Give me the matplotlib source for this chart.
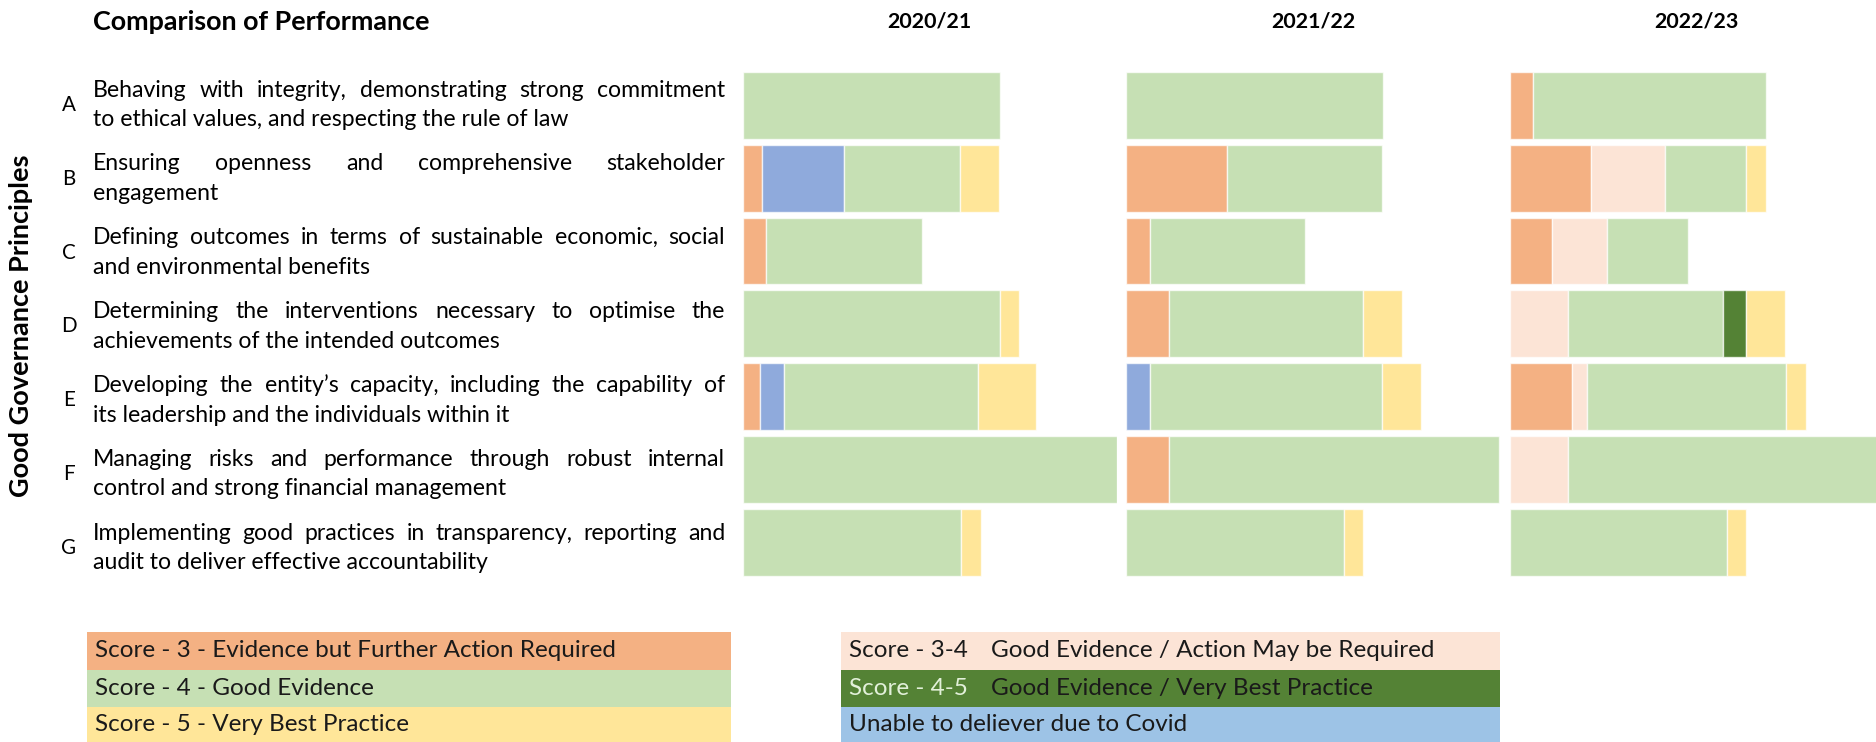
import matplotlib
matplotlib.use("Agg")
import matplotlib.pyplot as plt
from matplotlib.patches import Rectangle
import numpy as np

# ---------------- data ----------------
years = ["2020/21", "2021/22", "2022/23"]
letters = ["A", "B", "C", "D", "E", "F", "G"]
descriptions = [
    ["Behaving with integrity, demonstrating strong commitment", "to ethical values, and respecting the rule of law"],
    ["Ensuring openness and comprehensive stakeholder", "engagement"],
    ["Defining outcomes in terms of sustainable economic, social", "and environmental benefits"],
    ["Determining the interventions necessary to optimise the", "achievements of the intended outcomes"],
    ["Developing the entity\u2019s capacity, including the capability of", "its leadership and the individuals within it"],
    ["Managing risks and performance through robust internal", "control and strong financial management"],
    ["Implementing good practices in transparency, reporting and", "audit to deliver effective accountability"],
]

# segment values per year (rows A..G)
score3 = [
    [0, 1.0, 1.2, 0, 0.9, 0, 0],
    [0, 5.2, 1.2, 2.2, 0, 2.2, 0],
    [1.2, 4.2, 2.2, 0, 3.2, 0, 0],
]
covid = [
    [0, 4.2, 0, 0, 1.2, 0, 0],
    [0, 0, 0, 0, 1.2, 0, 0],
    [0, 0, 0, 0, 0, 0, 0],
]
score34 = [
    [0, 0, 0, 0, 0, 0, 0],
    [0, 0, 0, 0, 0, 0, 0],
    [0, 3.8, 2.8, 3.0, 0.8, 3.0, 0],
]
score4 = [
    [13.25, 6.0, 8.0, 13.25, 10.0, 19.26, 11.25],
    [13.25, 8.0, 8.0, 10.0, 12.0, 17.0, 11.2],
    [12.0, 4.2, 4.2, 8.0, 10.25, 16.26, 11.2],
]
score45 = [
    [0, 0, 0, 0, 0, 0, 0],
    [0, 0, 0, 0, 0, 0, 0],
    [0, 0, 0, 1.2, 0, 0, 0],
]
score5 = [
    [0, 2.0, 0, 1.0, 3.0, 0, 1.0],
    [0, 0, 0, 2.0, 2.0, 0, 1.0],
    [0, 1.0, 0, 2.0, 1.0, 0, 1.0],
]

legend_left = ["Score - 3 - Evidence but Further Action Required",
               "Score - 4 - Good Evidence",
               "Score - 5 - Very Best Practice"]
legend_right_a = ["Score - 3-4", "Score - 4-5", "Unable to deliever due to Covid"]
legend_right_b = ["Good Evidence / Action May be Required",
                  "Good Evidence / Very Best Practice", ""]

title = "Comparison of Performance"
side_label = "Good Governance Principles"

# ---------------- style ----------------
C_ORANGE = "#F4B183"
C_BLUE_BAR = "#8FAADC"
C_PALE = "#FCE4D6"
C_GREEN = "#C6E0B4"
C_DKGREEN = "#548235"
C_YELLOW = "#FFE699"
C_BLUE_LEG = "#9DC3E6"

FONT = "Lato"
W, H = 1876, 742
fig = plt.figure(figsize=(W / 100, H / 100), dpi=100)
fig.patch.set_facecolor("white")
renderer = fig.canvas.get_renderer()


def fx(x):
    return x / W


def fy(y):
    return 1 - y / H


def text_w(s, size, weight="normal"):
    t = fig.text(0, 0, s, fontsize=size, family=FONT, weight=weight)
    w = t.get_window_extent(renderer).width
    t.remove()
    return w


def fit(s, target, weight="normal"):
    return 12 * target / text_w(s, 12, weight)


# ---------------- bars ----------------
panel_left0 = 743
panel_pitch = 383.35
panel_w = 373.7
ax_top, ax_bot = 69, 578.6
xmax = 19.26
rows = np.arange(len(letters))
series = [(score3, C_ORANGE), (covid, C_BLUE_BAR), (score34, C_PALE),
          (score4, C_GREEN), (score45, C_DKGREEN), (score5, C_YELLOW)]

for k, yr in enumerate(years):
    left_px = panel_left0 + k * panel_pitch
    ax = fig.add_axes([fx(left_px), fy(ax_bot), panel_w / W, (ax_bot - ax_top) / H])
    base = np.zeros(len(letters))
    for data, col in series:
        vals = np.array(data[k], dtype=float)
        m = vals > 0
        if m.any():
            ax.barh(rows[m], vals[m], left=base[m], height=0.92, color=col,
                    edgecolor=(1, 1, 1, 0.7), linewidth=1.0)
        base += vals
    ax.set_xlim(0, xmax)
    ax.set_ylim(len(letters) - 0.5, -0.5)
    ax.axis("off")
    # year header
    ys = fit("2020/21", 84, "bold")
    fig.text(fx(left_px + panel_w / 2), fy(21.5), yr, fontsize=ys, family=FONT,
             weight="bold", ha="center", va="center")

# ---------------- titles ----------------
ts = fit(title, 335, "bold")
fig.text(fx(93), fy(21.5), title, fontsize=ts, family=FONT, weight="bold",
         ha="left", va="center")
ss = fit(side_label, 342, "bold")
fig.text(fx(21.5), fy(326), side_label, fontsize=ss, family=FONT, weight="bold",
         rotation=90, ha="center", va="center")

# ---------------- row labels (justified first line) ----------------
ls = fit(descriptions[4][0], 592)
x0, x1 = 93, 725
for i, (l1, l2) in enumerate(descriptions):
    yc = 105 + i * 73.8
    fig.text(fx(69), fy(yc), letters[i], fontsize=ls * 0.9, family=FONT,
             ha="center", va="center")
    words = l1.split(" ")
    widths = [text_w(w_, ls) for w_ in words]
    gap = (x1 - x0 - sum(widths)) / (len(words) - 1)
    x = x0
    for w_, wd in zip(words, widths):
        fig.text(fx(x), fy(yc - 14.8), w_, fontsize=ls, family=FONT,
                 ha="left", va="center")
        x += wd + gap
    fig.text(fx(x0), fy(yc + 14.8), l2, fontsize=ls, family=FONT,
             ha="left", va="center")

# ---------------- legend ----------------
leg_rows = [632, 669.5, 707, 742]
left_cols = [C_ORANGE, C_GREEN, C_YELLOW]
right_cols = [C_PALE, C_DKGREEN, C_BLUE_LEG]
gs = fit(legend_left[0], 519)
for j in range(3):
    y0, y1 = leg_rows[j], leg_rows[j + 1]
    fig.patches.append(Rectangle((fx(87), fy(y1)), (731 - 87) / W, (y1 - y0) / H,
                                 transform=fig.transFigure, facecolor=left_cols[j],
                                 edgecolor="none"))
    fig.patches.append(Rectangle((fx(841), fy(y1)), (1500 - 841) / W, (y1 - y0) / H,
                                 transform=fig.transFigure, facecolor=right_cols[j],
                                 edgecolor="none"))
    yc = (y0 + y1) / 2
    fig.text(fx(95), fy(yc), legend_left[j], fontsize=gs, family=FONT,
             ha="left", va="center", color="#1a1a1a")
    fig.text(fx(849), fy(yc), legend_right_a[j], fontsize=gs, family=FONT,
             ha="left", va="center",
             color="#E2F0D9" if j == 1 else "#1a1a1a")
    if legend_right_b[j]:
        fig.text(fx(991), fy(yc), legend_right_b[j], fontsize=gs, family=FONT,
                 ha="left", va="center", color="#1a1a1a")

fig.savefig("out.png", dpi=100, facecolor="white")
